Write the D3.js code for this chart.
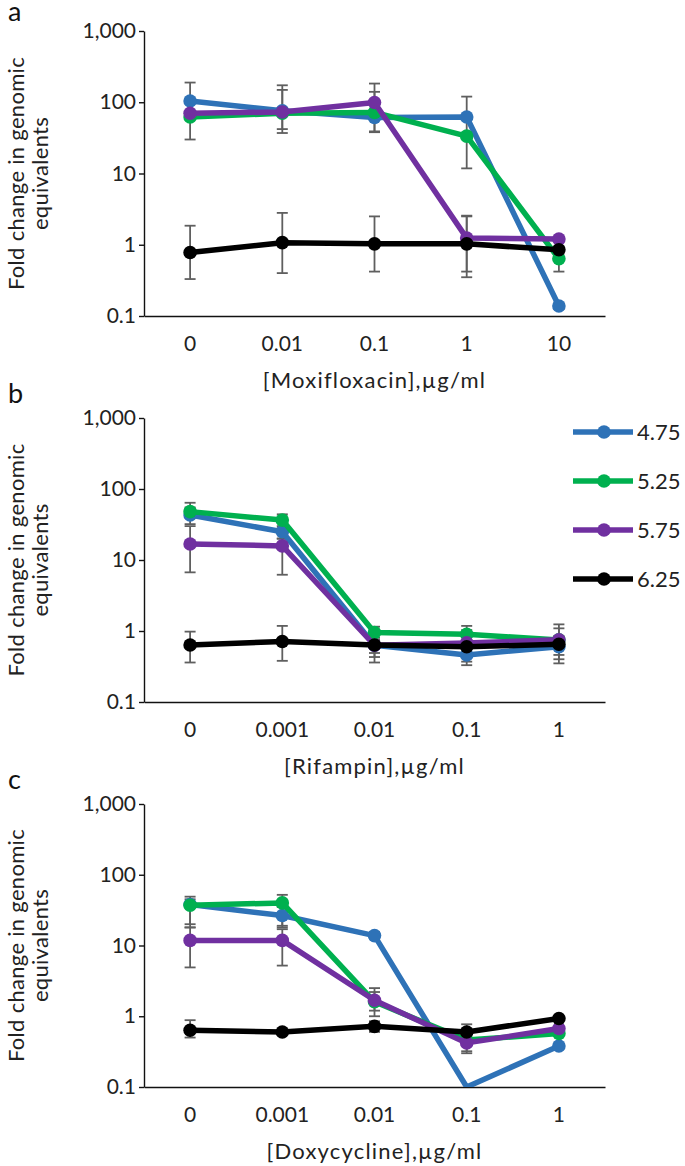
<!DOCTYPE html>
<html lang="en">
<head>
    <meta charset="UTF-8">
    <title>Fold change in genomic equivalents</title>
    <script src="https://d3js.org/d3.v7.min.js"></script>
    <style>
        body { margin: 0; background: white; font-family: Lato, "Liberation Sans", sans-serif; }
        svg { display: block; }
        .axis text { font-family: Lato, sans-serif; font-size: 21px; fill: #222; }
        .axis path, .axis line { stroke: #111; stroke-width: 1.4; }
        .ylab { font-size: 22px; fill: #222; letter-spacing: 0.3px; }
        .xlab { font-size: 22px; fill: #222; letter-spacing: 1.2px; }
        .plabel { font-size: 27px; fill: #111; }
        .err { stroke: #5f5f5f; stroke-width: 1.8; fill: none; }
        .legend text { font-size: 22px; fill: #222; }
    </style>
</head>
<body>
<div id="chart"></div>
<script>
    // series (pH)
    const seriesNames = ["4.75", "5.25", "5.75", "6.25"];
    const seriesColors = ["#2e72b7", "#00b04f", "#7030a0", "#000000"];

    const yTicks = [0.1, 1, 10, 100, 1000];

    // a: moxifloxacin
    const moxiDoses = ["0", "0.01", "0.1", "1", "10"];
    const moxiMeans = [
        [104, 76, 61, 62, 0.138],
        [62, 70, 72, 33.5, 0.635],
        [70, 73, 99, 1.24, 1.2],
        [0.78, 1.07, 1.03, 1.03, 0.85]
    ];
    const moxiLow = [
        [62, 42, 38, null, 0.125],
        [30, 37, null, 11.8, 0.42],
        [null, null, 39, 0.35, null],
        [0.33, 0.40, 0.42, 0.42, 0.75]
    ];
    const moxiHigh = [
        [189, 173, 140, null, 0.15],
        [62, 149, null, 120, 0.9],
        [null, null, 183, 2.5, null],
        [1.85, 2.8, 2.5, 2.56, 0.95]
    ];

    // b: rifampin
    const rifDoses = ["0", "0.001", "0.01", "0.1", "1"];
    const rifMeans = [
        [43, 25, 0.63, 0.46, 0.6],
        [48, 36.5, 0.95, 0.9, 0.75],
        [16.8, 15.8, 0.63, 0.68, 0.75],
        [0.635, 0.71, 0.635, 0.6, 0.65]
    ];
    const rifLow = [
        [32, 20, 0.49, 0.33, 0.35],
        [40, 28, 0.7, 0.7, 0.6],
        [6.7, 6.2, 0.43, 0.37, 0.46],
        [0.36, 0.38, 0.36, 0.45, 0.4]
    ];
    const rifHigh = [
        [55, 30, 0.75, 0.55, 0.7],
        [64, 44, 1.15, 1.18, 1.24],
        [30, 20, 1.03, 1.03, 1.09],
        [0.98, 1.18, 0.8, 0.75, 0.85]
    ];

    // c: doxycycline
    const doxDoses = ["0", "0.001", "0.01", "0.1", "1"];
    const doxMeans = [
        [38, 26.5, 13.8, 0.1, 0.38],
        [37, 40, 1.6, 0.46, 0.57],
        [11.8, 11.8, 1.68, 0.42, 0.67],
        [0.635, 0.6, 0.72, 0.6, 0.93]
    ];
    const doxLow = [
        [18, 18, 12.5, null, null],
        [20, 19, 1.2, 0.32, null],
        [4.9, 5.2, 1.0, 0.3, null],
        [0.5, null, 0.6, 0.45, null]
    ];
    const doxHigh = [
        [45, 35, 15.5, null, null],
        [49, 52, 2.2, 0.6, null],
        [18, 17, 2.5, 0.6, null],
        [0.88, null, 0.85, 0.77, null]
    ];

    const W = 685, H = 1166;
    const left = 144, right = 605;

    const panels = [
        { label: "a", doses: moxiDoses, means: moxiMeans, lo: moxiLow, hi: moxiHigh,
          title: "[Moxifloxacin],µg/ml", top: 31, bottom: 316, labelY: 21 },
        { label: "b", doses: rifDoses, means: rifMeans, lo: rifLow, hi: rifHigh,
          title: "[Rifampin],µg/ml", top: 418, bottom: 702, labelY: 403 },
        { label: "c", doses: doxDoses, means: doxMeans, lo: doxLow, hi: doxHigh,
          title: "[Doxycycline],µg/ml", top: 804, bottom: 1087, labelY: 789 }
    ];

    const svg = d3.select("#chart").append("svg")
        .attr("width", W).attr("height", H);

    panels.forEach((p, pi) => {
        const g = svg.append("g");
        const x = d3.scaleBand().domain(p.doses).range([left, right]);
        const cx = d => x(d) + x.bandwidth() / 2;
        const y = d3.scaleLog().domain([0.1, 1000]).range([p.bottom, p.top]);

        // clip for the plot region
        const clipId = "clip" + pi;
        svg.append("clipPath").attr("id", clipId)
            .append("rect")
            .attr("x", left).attr("y", p.top - 10)
            .attr("width", right - left + 10).attr("height", p.bottom - p.top + 10);

        // axes
        g.append("g").attr("class", "axis")
            .attr("transform", `translate(${left},0)`)
            .call(d3.axisLeft(y).tickValues(yTicks).tickFormat(d3.format(","))
                .tickSize(5).tickSizeOuter(0).tickPadding(3));

        g.append("g").attr("class", "axis")
            .attr("transform", `translate(0,${p.bottom})`)
            .call(d3.axisBottom(x).tickSize(0).tickSizeOuter(0).tickPadding(20));

        // titles
        g.append("text").attr("class", "xlab")
            .attr("x", (left + right) / 2).attr("y", p.bottom + 72)
            .attr("text-anchor", "middle")
            .text(p.title);

        const ymid = (p.top + p.bottom) / 2;
        const yt = g.append("text").attr("class", "ylab")
            .attr("transform", `translate(0,${ymid}) rotate(-90)`)
            .attr("text-anchor", "middle");
        yt.append("tspan").attr("x", 0).attr("y", 24).text("Fold change in genomic");
        yt.append("tspan").attr("x", 0).attr("y", 48).text("equivalents");

        g.append("text").attr("class", "plabel")
            .attr("x", 8).attr("y", p.labelY).text(p.label);

        const plot = g.append("g").attr("clip-path", `url(#${clipId})`);

        // error bars
        p.means.forEach((vals, si) => {
            vals.forEach((v, i) => {
                const lo = p.lo[si][i], hi = p.hi[si][i];
                if (lo == null && hi == null) return;
                const xc = cx(p.doses[i]);
                const y0 = y(lo != null ? lo : v), y1 = y(hi != null ? hi : v);
                plot.append("line").attr("class", "err")
                    .attr("x1", xc).attr("x2", xc).attr("y1", y0).attr("y2", y1);
                if (lo != null) plot.append("line").attr("class", "err")
                    .attr("x1", xc - 5.5).attr("x2", xc + 5.5).attr("y1", y0).attr("y2", y0);
                if (hi != null) plot.append("line").attr("class", "err")
                    .attr("x1", xc - 5.5).attr("x2", xc + 5.5).attr("y1", y1).attr("y2", y1);
            });
        });

        // series lines and markers
        const line = d3.line().x((d, i) => cx(p.doses[i])).y(d => y(d));
        p.means.forEach((vals, si) => {
            plot.append("path")
                .attr("d", line(vals))
                .attr("fill", "none")
                .attr("stroke", seriesColors[si])
                .attr("stroke-width", 5.5)
                .attr("stroke-linejoin", "round");
            plot.selectAll(null)
                .data(vals.map((v, i) => ({ v, d: p.doses[i] })).filter(o => o.v > 0.1))
                .enter().append("circle")
                .attr("cx", o => cx(o.d))
                .attr("cy", o => y(o.v))
                .attr("r", 6.8)
                .attr("fill", seriesColors[si]);
        });
    });

    // legend (next to panel b)
    const legend = svg.append("g").attr("class", "legend");
    seriesNames.forEach((name, i) => {
        const ly = 432 + i * 49;
        legend.append("line")
            .attr("x1", 573).attr("x2", 633).attr("y1", ly).attr("y2", ly)
            .attr("stroke", seriesColors[i]).attr("stroke-width", 5.5);
        legend.append("circle")
            .attr("cx", 604).attr("cy", ly).attr("r", 6.8)
            .attr("fill", seriesColors[i]);
        legend.append("text")
            .attr("x", 637).attr("y", ly).attr("dy", "0.36em")
            .text(name);
    });
</script>
</body>
</html>
